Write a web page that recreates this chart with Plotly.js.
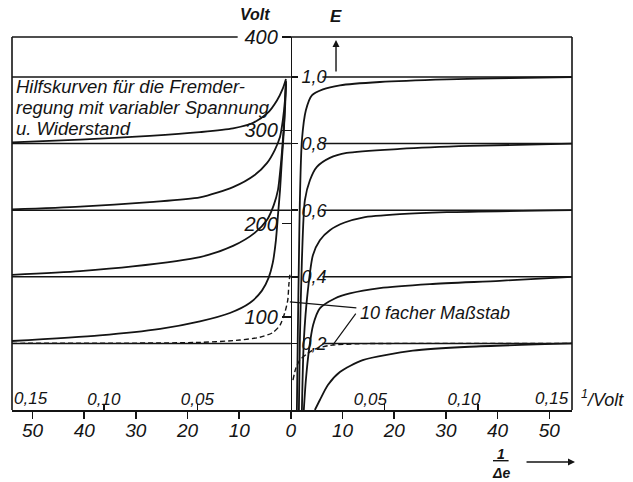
<!DOCTYPE html>
<html><head><meta charset="utf-8">
<script src="https://cdn.plot.ly/plotly-3.0.1.min.js"></script>
<style>html,body{margin:0;padding:0;background:#fff}#chart{width:633px;height:482px}</style>
</head><body><div id="chart"></div>
<script>
// ---- tick data ----
const bottomTickVals = [-50,-40,-30,-20,-10,0,10,20,30,40,50];
const bottomTickText = ['50','40','30','20','10','0','10','20','30','40','50'];
const voltTickVals = [100,200,300,400];
const voltTickText = ['100','200','300','400'];
const eTickVals = [0.2,0.4,0.6,0.8,1.0];
const eTickText = ['0,2','0,4','0,6','0,8','1,0'];
const invLeftVals = [-0.10,-0.05];
const invLeftText = ['0,10','0,05'];
const invRightVals = [0.05,0.10,0.15];
const invRightText = ['0,05','0,10','0,15'];
const eLevels = [0.2,0.4,0.6,0.8,1.0];
const titleLines = ['Hilfskurven für die Fremder-', 'regung mit variabler Spannung', 'u. Widerstand'];

// ---- left half: Volt vs 1/Δe (mirrored) ----
const l1x = [-53.97,-37.0,-25.3,-17.6,-11.8,-7.9,-5.6,-4.3,-3.5,-2.9,-2.5,-2.1,-1.75,-1.35,-1.15,-0.95];
const l1y = [74,80,87,95,104,115,128,142,158,182,209,236,268,300,327,352];
const l2x = [-53.97,-40.8,-30.6,-17.6,-11.2,-7.0,-4.6,-3.3,-2.5,-1.95,-1.55,-1.15,-0.95];
const l2y = [145,149,154,164,176,190,204,220,236,263,290,322,350];
const l3x = [-53.97,-40.8,-27.3,-17.6,-11.2,-7.0,-4.6,-3.1,-2.1,-1.55,-1.15,-0.95];
const l3y = [215,218,223,228,239,252,265,279,293,311,332,353];
const l4x = [-53.97,-40.8,-27.3,-17.6,-11.2,-7.3,-4.6,-2.7,-1.55,-0.95];
const l4y = [287,290,294,298,302,308,318,332,345,355];
const ldx = [-53.97,-17.6,-9.9,-6.0,-3.5,-2.1,-1.15,-0.6,-0.4,-0.2];
const ldy = [71.5,72.5,75,78,83,91,105,118,134,145];

// ---- right half: E vs 1/Δe ----
const r1x = [1.16,1.35,1.55,1.74,2.13,2.9,4.06,6.2,9.5,17.2,30.2,42.4,54.4];
const r1y = [0,0.24,0.45,0.63,0.81,0.90,0.945,0.963,0.975,0.985,0.993,0.997,1.0];
const r2x = [1.55,1.74,2.13,2.71,3.68,5.03,7.54,10.8,21.1,34.6,54.4];
const r2y = [0,0.21,0.45,0.63,0.69,0.73,0.757,0.772,0.784,0.793,0.8];
const r3x = [2.13,2.51,3.29,4.26,5.61,7.54,10.4,13.9,21.1,30.2,54.4];
const r3y = [0,0.21,0.36,0.465,0.51,0.54,0.563,0.578,0.588,0.594,0.6];
const r4x = [2.5,2.9,3.5,4.3,5.6,8.5,11.4,17.2,26.9,40.4,54.4];
const r4y = [0,0.09,0.18,0.255,0.305,0.335,0.35,0.366,0.378,0.388,0.4];
const r5x = [4.64,5.61,7.16,9.48,13.9,23.6,34.6,54.4];
const r5y = [0,0.03,0.075,0.114,0.15,0.178,0.19,0.2];
const rdx = [0.4,0.97,1.74,3.09,4.64,7.54,13.3,30.8,54.4];
const rdy = [0.09,0.126,0.15,0.168,0.183,0.194,0.199,0.2,0.2];

// ---- scales ----
const xRange = [-53.97, 54.4];
const invPerUnit = 362;               // bottom units per 1/Volt
const invRange = [xRange[0]/invPerUnit, xRange[1]/invPerUnit];
const vRange = [0, 400];
const eRange = [0, 1.1201];
const axisPos = -xRange[0]/(xRange[1]-xRange[0]);
const ink = '#141414';
const FONT = 'Liberation Sans, Arial, sans-serif';
const f = (s, extra) => Object.assign({family: FONT, size: s, color: ink, style: 'italic'}, extra||{});

const solid = {color: ink, width: 1.8, shape: 'spline', smoothing: 0.7};
const dashed = {color: ink, width: 1.4, dash: '5px,3px', shape: 'spline', smoothing: 0.7};
function tr(x, y, ya, line){ return {x, y, xaxis: 'x', yaxis: ya, mode: 'lines', line, hoverinfo: 'skip', showlegend: false}; }

const data = [
  tr(l1x,l1y,'y',solid), tr(l2x,l2y,'y',solid), tr(l3x,l3y,'y',solid), tr(l4x,l4y,'y',solid),
  tr(ldx,ldy,'y',dashed),
  tr(r1x,r1y,'y2',solid), tr(r2x,r2y,'y2',solid), tr(r3x,r3y,'y2',solid), tr(r4x,r4y,'y2',solid), tr(r5x,r5y,'y2',solid),
  tr(rdx,rdy,'y2',dashed),
  {x: [], y: [], xaxis: 'x2', yaxis: 'y', mode: 'lines', showlegend: false, hoverinfo: 'skip'},
  {x: [], y: [], xaxis: 'x3', yaxis: 'y', mode: 'lines', showlegend: false, hoverinfo: 'skip'}
];

const shapes = [];
const lw = 1.6;
// frame
shapes.push({type:'line', xref:'paper', yref:'paper', x0:0, x1:0, y0:0, y1:1, line:{color:ink, width:lw}});
shapes.push({type:'line', xref:'paper', yref:'paper', x0:1, x1:1, y0:0, y1:1, line:{color:ink, width:lw}});
shapes.push({type:'line', xref:'x', yref:'paper', x0:xRange[0], x1:-10.3, y0:1, y1:1, line:{color:ink, width:lw}});
shapes.push({type:'line', xref:'x', yref:'paper', x0:-1.5, x1:xRange[1], y0:1, y1:1, line:{color:ink, width:lw}});
// level lines (E)
eLevels.forEach(e => {
  shapes.push({type:'line', xref:'x', yref:'y2', x0:xRange[0], x1:0, y0:e, y1:e, line:{color:ink, width:1.5}});
  shapes.push({type:'line', xref:'x', yref:'y2', x0:6.1, x1:xRange[1], y0:e, y1:e, line:{color:ink, width:1.5}});
});

const titleY = [0.866, 0.8097, 0.756];
const annotations = [
  {xref:'paper', yref:'paper', x:0.434, y:1.059, xanchor:'center', yanchor:'middle', text:'Volt', showarrow:false, font:f(16, {weight:'bold'})},
  {xref:'paper', yref:'paper', x:0.5786, y:1.054, xanchor:'center', yanchor:'middle', text:'E', showarrow:false, font:f(17, {weight:'bold'})},
  {xref:'paper', yref:'paper', x:0.5786, y:0.992, ax:0, ay:33, text:'', showarrow:true, arrowhead:2, arrowsize:1, arrowwidth:1.4, arrowcolor:ink},
  ...titleLines.map((t, i) => ({xref:'paper', yref:'paper', x:0.004, y:titleY[i], xanchor:'left', yanchor:'middle',
     text:t, showarrow:false, font:f(18.5)})),
  {xref:'x', yref:'y2', x:27.85, y:0.291, xanchor:'center', yanchor:'middle', text:'10 facher Maßstab', showarrow:false, font:f(18)},
  {xref:'x', yref:'y', x:ldx[9], y:116, axref:'x', ayref:'y', ax:12.96, ay:109.4, text:'', showarrow:true, arrowhead:0, arrowwidth:1.2, arrowcolor:ink},
  {xref:'x', yref:'y2', x:8.1, y:0.195, axref:'x', ayref:'y2', ax:12.77, ay:0.294, text:'', showarrow:true, arrowhead:0, arrowwidth:1.2, arrowcolor:ink},
  {xref:'x2', yref:'paper', x:invRange[0], y:0.0295, xanchor:'left', yanchor:'middle', text:'0,15', showarrow:false, font:f(17)},
  {xref:'x3', yref:'paper', x:invRightVals[2], y:0.0295, xanchor:'right', yanchor:'middle', text:invRightText[2], showarrow:false, font:f(17)},
  {xref:'paper', yref:'paper', x:1.013, y:0.0295, xanchor:'left', yanchor:'middle', text:'<sup>1</sup>/Volt', showarrow:false, font:f(18)},
  {xref:'paper', yref:'paper', x:0.873, y:-0.1193, xanchor:'center', yanchor:'middle', borderpad:0, text:'<u>&nbsp;1&nbsp;</u>', showarrow:false, font:f(14, {weight:'bold'})},
  {xref:'paper', yref:'paper', x:0.873, y:-0.1689, xanchor:'center', yanchor:'middle', borderpad:0, text:'Δe', showarrow:false, font:f(14, {weight:'bold'})},
  {xref:'paper', yref:'paper', x:1.0054, y:-0.1394, ax:-50, ay:0, text:'', showarrow:true, arrowhead:2, arrowsize:1, arrowwidth:1.4, arrowcolor:ink}
];

const layout = {
  width: 633, height: 482,
  margin: {l: 12, r: 61, t: 37, b: 72},
  paper_bgcolor: '#fff', plot_bgcolor: '#fff',
  showlegend: false,
  xaxis: {range: xRange, domain: [0,1], anchor: 'y', showline: true, linecolor: ink, linewidth: lw,
          ticks: 'outside', ticklen: 7, tickwidth: 1.5, tickcolor: ink, ticklabelstandoff: -4,
          tickvals: bottomTickVals, ticktext: bottomTickText, tickfont: f(19),
          showgrid: false, zeroline: false},
  xaxis2: {overlaying: 'x', anchor: 'y', side: 'bottom', range: invRange,
           ticks: 'inside', ticklen: 6, tickwidth: 1.5, tickcolor: ink, ticklabelposition: 'inside', ticklabelstandoff: -4,
           tickvals: invLeftVals, ticktext: invLeftText, tickfont: f(17),
           showline: false, showgrid: false, zeroline: false},
  xaxis3: {overlaying: 'x', anchor: 'y', side: 'bottom', range: invRange,
           ticks: 'inside', ticklen: 6, tickwidth: 1.5, tickcolor: ink, ticklabelposition: 'inside', ticklabelstandoff: -4,
           ticklabelshift: -14,
           tickvals: invRightVals, ticktext: invRightText, tickfont: f(17),
           showline: false, showgrid: false, zeroline: false},
  yaxis: {range: vRange, anchor: 'free', position: axisPos, side: 'left', showline: true, linecolor: ink, linewidth: lw,
          ticks: 'outside', ticklen: 9, tickwidth: 1.5, tickcolor: ink,
          tickvals: voltTickVals, ticktext: voltTickText, tickfont: f(20),
          showgrid: false, zeroline: false},
  yaxis2: {range: eRange, overlaying: 'y', anchor: 'free', position: axisPos, side: 'right', showline: false,
           ticks: 'outside', ticklen: 6, tickwidth: 1.5, tickcolor: ink,
           tickvals: eTickVals, ticktext: eTickText, tickfont: f(18),
           showgrid: false, zeroline: false},
  shapes, annotations
};

Plotly.newPlot('chart', data, layout, {staticPlot: true, displayModeBar: false});
</script>
</body></html>
